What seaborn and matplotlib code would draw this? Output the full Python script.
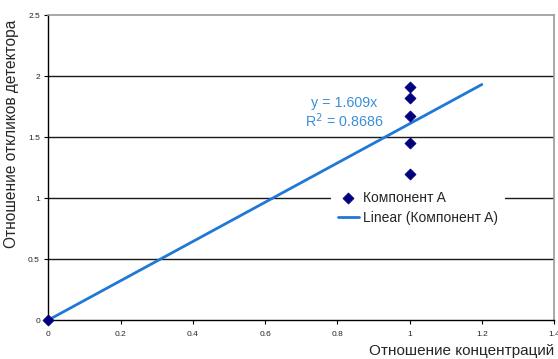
import matplotlib
matplotlib.use("Agg")
import matplotlib.pyplot as plt
import seaborn as sns
import numpy as np
import pandas as pd

# Measured ratios
conc_ratio = [0.0, 1.0, 1.0, 1.0, 1.0, 1.0]
resp_ratio = [0.0, 1.91, 1.82, 1.67, 1.45, 1.195]

# Linear trend through the origin
slope = 1.609
r_squared = 0.8686
trend_x = [0.0, 1.2]

x_ticks = [0, 0.2, 0.4, 0.6, 0.8, 1, 1.2, 1.4]
x_tick_labels = ["0", "0.2", "0.4", "0.6", "0.8", "1", "1.2", "1.4"]
y_ticks = [0, 0.5, 1, 1.5, 2, 2.5]
y_tick_labels = ["0", "0.5", "1", "1.5", "2", "2.5"]

series_name = "Компонент A"
trend_name = "Linear (Компонент A)"
x_label = "Отношение концентраций"
y_label = "Отношение откликов детектора"

sns.set_style("white")
plt.rcParams["font.family"] = ["Liberation Sans", "DejaVu Sans"]

fig = plt.figure(figsize=(5.58, 3.59), dpi=100)
ax = fig.add_axes([0.0866, 0.1086, 0.9064, 0.8494])

points = pd.DataFrame({"x": conc_ratio, "y": resp_ratio})
trend = pd.DataFrame({"x": trend_x, "y": [slope * v for v in trend_x]})

ax.set_xlim(0, 1.4)
ax.set_ylim(0, 2.5)

# horizontal gridlines
for yv in y_ticks[1:-1]:
    ax.axhline(yv, color="#1a1a1a", lw=1.0, zorder=0)

sns.lineplot(data=trend, x="x", y="y", ax=ax, color="#1f78d6", lw=2.0,
             label=trend_name, zorder=2)
sns.scatterplot(data=points, x="x", y="y", ax=ax, marker="D", s=32,
                color="#00007f", edgecolor="#00007f", linewidth=0.5,
                label=series_name, zorder=3, clip_on=False)

ax.text(0.82, 1.78, f"y = {slope}x", color="#3a8fd8", fontsize=10.3,
        ha="center", va="center")
ax.text(0.82, 1.63, f"R$^2$ = {r_squared}", color="#3a8fd8", fontsize=10.3,
        ha="center", va="center")

ax.set_xticks(x_ticks)
ax.set_xticklabels(x_tick_labels)
ax.set_yticks(y_ticks)
ax.set_yticklabels(y_tick_labels)
ax.tick_params(axis="both", direction="out", length=3, width=0.8,
               labelsize=6, color="black", pad=5)
ax.tick_params(axis="x", bottom=True)
ax.tick_params(axis="y", left=True, pad=3)

ax.set_xlabel(x_label, fontsize=11, ha="right")
ax.xaxis.set_label_coords(1.0, -0.08)
ax.set_ylabel(y_label, fontsize=11.2)
ax.yaxis.set_label_coords(-0.058, 0.61)

for side in ["left", "bottom"]:
    ax.spines[side].set_color("black")
    ax.spines[side].set_linewidth(1.0)
for side in ["top", "right"]:
    ax.spines[side].set_color("#9a9a9a")
    ax.spines[side].set_linewidth(1.2)

handles, labels = ax.get_legend_handles_labels()
order = [labels.index(series_name), labels.index(trend_name)]
leg = ax.legend([handles[i] for i in order], [labels[i] for i in order],
                loc="upper left", bbox_to_anchor=(0.545, 0.47),
                frameon=True, fancybox=False, framealpha=1.0,
                edgecolor="white", fontsize=10, handlelength=1.5,
                handletextpad=0.3, borderpad=0.5, labelspacing=0.45)
leg.get_frame().set_linewidth(0)

fig.savefig("out.png", dpi=100, facecolor="white")
